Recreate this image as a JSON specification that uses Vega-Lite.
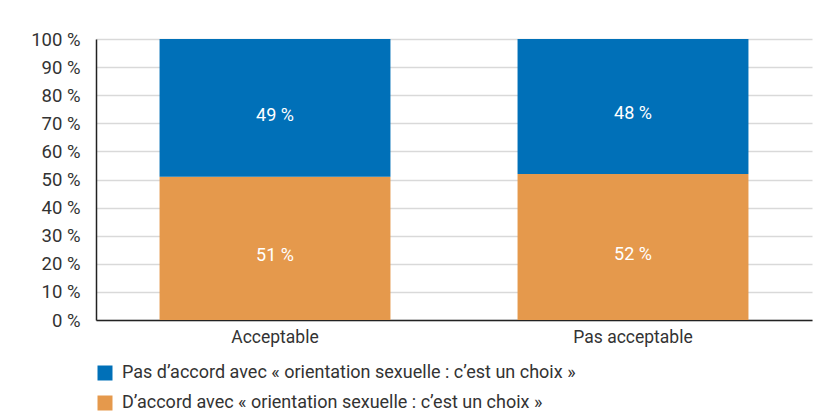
{
  "$schema": "https://vega.github.io/schema/vega-lite/v6.json",
  "width": 716,
  "height": 281,
  "autosize": {"type": "none"},
  "padding": {"left": 96, "top": 39, "right": 20, "bottom": 96},
  "background": "white",
  "config": {
    "view": {"stroke": null},
    "font": "Roboto",
    "text": {"font": "Roboto"}
  },
  "data": {
    "values": [
      {"categorie": "Acceptable", "opinion": "D’accord avec « orientation sexuelle : c’est un choix »", "ordre": 1, "pct": 51, "etiquette": "51 %"},
      {"categorie": "Acceptable", "opinion": "Pas d’accord avec « orientation sexuelle : c’est un choix »", "ordre": 2, "pct": 49, "etiquette": "49 %"},
      {"categorie": "Pas acceptable", "opinion": "D’accord avec « orientation sexuelle : c’est un choix »", "ordre": 1, "pct": 52, "etiquette": "52 %"},
      {"categorie": "Pas acceptable", "opinion": "Pas d’accord avec « orientation sexuelle : c’est un choix »", "ordre": 2, "pct": 48, "etiquette": "48 %"}
    ]
  },
  "encoding": {
    "x": {
      "field": "categorie",
      "type": "nominal",
      "sort": ["Acceptable", "Pas acceptable"],
      "scale": {"paddingInner": 0.355, "paddingOuter": 0.1775},
      "axis": {
        "title": null,
        "labelAngle": 0,
        "labelFont": "Roboto",
        "labelFontSize": 17.5,
        "labelColor": "#333333",
        "labelPadding": 8,
        "ticks": false,
        "domainColor": "#222222",
        "domainWidth": 1.5
      }
    },
    "y": {
      "field": "pct",
      "type": "quantitative",
      "stack": "zero",
      "scale": {"domain": [0, 100], "nice": false},
      "axis": {
        "title": null,
        "values": [0, 10, 20, 30, 40, 50, 60, 70, 80, 90, 100],
        "labelExpr": "datum.value + ' %'",
        "labelFont": "Roboto",
        "labelFontSize": 18.5,
        "labelColor": "#333333",
        "labelPadding": 16,
        "ticks": false,
        "domainColor": "#222222",
        "domainWidth": 1.5,
        "grid": true,
        "gridColor": "#d9d9d9",
        "gridWidth": 1.5
      }
    },
    "order": {"field": "ordre", "type": "quantitative", "sort": "ascending"}
  },
  "layer": [
    {
      "mark": {"type": "bar"},
      "encoding": {
        "color": {
          "field": "opinion",
          "type": "nominal",
          "sort": [
            "Pas d’accord avec « orientation sexuelle : c’est un choix »",
            "D’accord avec « orientation sexuelle : c’est un choix »"
          ],
          "scale": {
            "domain": [
              "Pas d’accord avec « orientation sexuelle : c’est un choix »",
              "D’accord avec « orientation sexuelle : c’est un choix »"
            ],
            "range": ["#0070b8", "#e5994c"]
          },
          "legend": {
            "title": null,
            "orient": "none",
            "legendX": 0,
            "legendY": 325,
            "direction": "vertical",
            "padding": 0,
            "symbolType": "square",
            "symbolSize": 225,
            "symbolStrokeWidth": 0,
            "labelFont": "Roboto",
            "labelFontSize": 18,
            "labelColor": "#333333",
            "labelOffset": 8,
            "labelLimit": 0,
            "rowPadding": 12
          }
        }
      }
    },
    {
      "mark": {"type": "text", "color": "white", "fontSize": 18, "font": "Roboto", "dy": 8},
      "encoding": {
        "y": {"field": "pct", "type": "quantitative", "stack": "zero", "bandPosition": 0.5},
        "text": {"field": "etiquette", "type": "nominal"},
        "detail": {"field": "opinion"}
      }
    }
  ]
}
